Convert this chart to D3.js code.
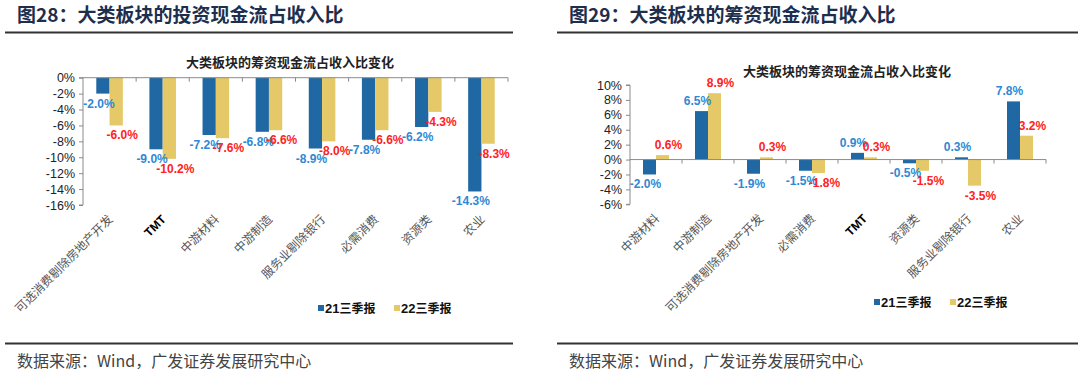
<!DOCTYPE html>
<html lang="zh">
<head>
<meta charset="UTF-8">
<title>大类板块现金流占收入比</title>
<script src="https://cdn.jsdelivr.net/npm/d3@7"></script>
<style>
  body { margin: 0; background: #fff; }
  svg { display: block; }
</style>
</head>
<body>
<div id="chart-space"></div>
<script>
// ---- data ----
var seriesNames = ["21三季报", "22三季报"];

// 图28 投资现金流
var catsInvest = ["可选消费剔除房地产开发", "TMT", "中游材料", "中游制造", "服务业剔除银行", "必需消费", "资源类", "农业"];
var invest21 = [-2.0, -9.0, -7.2, -6.8, -8.9, -7.8, -6.2, -14.3];
var invest22 = [-6.0, -10.2, -7.6, -6.6, -8.0, -6.6, -4.3, -8.3];
var investTicks = [0, -2, -4, -6, -8, -10, -12, -14, -16];

// 图29 筹资现金流
var catsFinance = ["中游材料", "中游制造", "可选消费剔除房地产开发", "必需消费", "TMT", "资源类", "服务业剔除银行", "农业"];
var finance21 = [-2.0, 6.5, -1.9, -1.5, 0.9, -0.5, 0.3, 7.8];
var finance22 = [0.6, 8.9, 0.3, -1.8, 0.3, -1.5, -3.5, 3.2];
var financeTicks = [10, 8, 6, 4, 2, 0, -2, -4, -6];

var width = 1080, height = 377;
var latin = "'Liberation Sans', Arial, sans-serif";
var cjk = "'Noto Sans CJK SC', sans-serif";
var barColors = ["#1f68a3", "#e5c968"];
var labelColors = ["#2f88d4", "#ff2222"];

var svg = d3.select("#chart-space").append("svg")
    .attr("width", width)
    .attr("height", height);

function drawPanel(opt) {
    var g = svg.append("g");

    // panel heading
    g.append("text")
        .attr("x", opt.titleX).attr("y", 22)
        .attr("font-family", cjk).attr("font-size", 19).attr("font-weight", "bold")
        .attr("fill", "#1e2e4d")
        .text(opt.title);
    g.append("line")
        .attr("x1", opt.left).attr("x2", opt.right)
        .attr("y1", 32.5).attr("y2", 32.5)
        .attr("stroke", "#333").attr("stroke-width", 2);

    // footer
    g.append("line")
        .attr("x1", opt.left).attr("x2", opt.right)
        .attr("y1", 343.5).attr("y2", 343.5)
        .attr("stroke", "#333").attr("stroke-width", 2);
    g.append("text")
        .attr("x", opt.titleX).attr("y", 367)
        .attr("font-family", cjk).attr("font-size", 16)
        .attr("fill", "#444")
        .text("数据来源：Wind，广发证券发展研究中心");

    // chart title
    g.append("text")
        .attr("x", opt.subX).attr("y", opt.subY)
        .attr("text-anchor", "middle")
        .attr("font-family", cjk).attr("font-size", 13).attr("font-weight", "bold")
        .attr("fill", "#222")
        .text("大类板块的筹资现金流占收入比变化");

    var y = d3.scaleLinear().domain(opt.domain).range([opt.plotTop, opt.plotBottom]);
    var x0 = d3.scaleBand().domain(opt.cats).range([opt.plotLeft, opt.plotRight])
        .paddingInner(0.5).paddingOuter(0.25);
    var x1 = d3.scaleBand().domain(seriesNames).range([0, x0.bandwidth()]);

    var rows = opt.cats.map(function(c, i) {
        return {cat: c, vals: [opt.s1[i], opt.s2[i]]};
    });

    // bars
    var grp = g.selectAll("g.cat").data(rows).join("g")
        .attr("class", "cat")
        .attr("transform", function(d) { return "translate(" + x0(d.cat) + ",0)"; });

    grp.selectAll("rect")
        .data(function(d) { return d.vals.map(function(v, k) { return {k: k, v: v}; }); })
        .join("rect")
        .attr("x", function(d) { return x1(seriesNames[d.k]); })
        .attr("width", x1.bandwidth())
        .attr("y", function(d) { return Math.min(y(0), y(d.v)); })
        .attr("height", function(d) { return Math.abs(y(d.v) - y(0)); })
        .attr("fill", function(d) { return barColors[d.k]; });

    // y axis
    var yAxis = g.append("g")
        .attr("transform", "translate(" + opt.plotLeft + ",0)")
        .call(d3.axisLeft(y).tickValues(opt.ticks).tickSize(4).tickPadding(4)
            .tickFormat(function(d) { return d + "%"; }));
    yAxis.selectAll("text").attr("font-family", latin).attr("font-size", 12.5).attr("fill", "#222");
    yAxis.selectAll("line, path").attr("stroke", "#8a8a8a");
    yAxis.select(".domain").attr("d", "M-4," + opt.plotTop + "H0V" + opt.plotBottom + "H-4");

    // zero axis with category ticks
    var xAxis = g.append("g")
        .attr("transform", "translate(0," + y(0) + ")");
    xAxis.append("line")
        .attr("x1", opt.plotLeft).attr("x2", opt.plotRight)
        .attr("stroke", "#8a8a8a");
    xAxis.selectAll("line.tk")
        .data(d3.range(1, opt.cats.length + 1))
        .join("line")
        .attr("class", "tk")
        .attr("x1", function(i) { return opt.plotLeft + i * x0.step(); })
        .attr("x2", function(i) { return opt.plotLeft + i * x0.step(); })
        .attr("y1", 0).attr("y2", 4)
        .attr("stroke", "#8a8a8a");

    // data labels
    grp.selectAll("text.lbl")
        .data(function(d) { return d.vals.map(function(v, k) { return {k: k, v: v}; }); })
        .join("text")
        .attr("class", "lbl")
        .attr("x", function(d) { return x1(seriesNames[d.k]) + x1.bandwidth() / 2 + (d.k === 0 ? -4 : 6); })
        .attr("y", function(d) { return d.v < 0 ? y(d.v) + 14 : y(d.v) - 6; })
        .attr("text-anchor", "middle")
        .attr("font-family", latin).attr("font-size", 12).attr("font-weight", "bold")
        .attr("fill", function(d) { return labelColors[d.k]; })
        .text(function(d) { return d.v.toFixed(1) + "%"; });

    // category labels
    g.selectAll("text.catlbl")
        .data(opt.cats)
        .join("text")
        .attr("class", "catlbl")
        .attr("transform", function(c) {
            return "translate(" + (x0(c) + x0.bandwidth() / 2 + 4) + "," + (opt.plotBottom + 15) + ") rotate(-45)";
        })
        .attr("text-anchor", "end")
        .attr("font-family", function(c) { return c === "TMT" ? latin : cjk; })
        .attr("font-weight", function(c) { return c === "TMT" ? "bold" : "normal"; })
        .attr("font-size", 12)
        .attr("fill", function(c) { return c === "TMT" ? "#000" : "#555"; })
        .text(function(c) { return c; });

    // legend
    var lg = g.append("g").attr("transform", "translate(" + opt.legendX + "," + opt.legendY + ")");
    seriesNames.forEach(function(s, k) {
        var item = lg.append("g").attr("transform", "translate(" + (k * 76) + ",0)");
        item.append("rect").attr("x", 0).attr("y", -4).attr("width", 6).attr("height", 6)
            .attr("fill", barColors[k]);
        item.append("text").attr("x", 7).attr("y", 4)
            .attr("font-family", latin).attr("font-size", 13).attr("font-weight", "bold")
            .attr("fill", "#111")
            .text(s.slice(0, 2))
            .append("tspan").attr("font-family", cjk).attr("font-size", 12)
            .text(s.slice(2));
    });
}

drawPanel({
    title: "图28：大类板块的投资现金流占收入比",
    titleX: 17, left: 5, right: 513,
    subX: 290, subY: 67,
    cats: catsInvest, s1: invest21, s2: invest22,
    domain: [0, -16], ticks: investTicks,
    plotLeft: 83, plotRight: 508, plotTop: 77.7, plotBottom: 205,
    legendX: 318, legendY: 309
});

drawPanel({
    title: "图29：大类板块的筹资现金流占收入比",
    titleX: 569, left: 557, right: 1078,
    subX: 847, subY: 76,
    cats: catsFinance, s1: finance21, s2: finance22,
    domain: [10, -6], ticks: financeTicks,
    plotLeft: 630, plotRight: 1046, plotTop: 85, plotBottom: 204.3,
    legendX: 874, legendY: 303
});
</script>
</body>
</html>
